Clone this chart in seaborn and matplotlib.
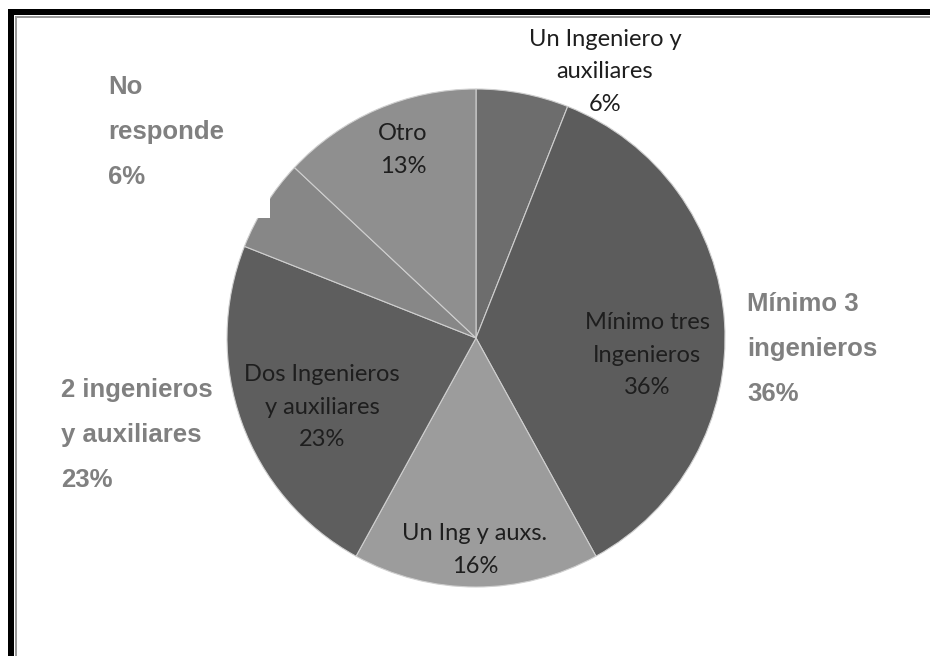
import matplotlib
matplotlib.use("Agg")
import matplotlib.pyplot as plt
from matplotlib.patches import Rectangle
import seaborn as sns

# Survey answers: team composition, clockwise from the top
slice_names = ["Un Ingeniero y\nauxiliares", "Mínimo tres\nIngenieros", "Un Ing y auxs.",
               "Dos Ingenieros\ny auxiliares", "No responde", "Otro"]
slice_values = [6, 36, 16, 23, 6, 13]
slice_colors = ["#6d6d6d", "#5c5c5c", "#9c9c9c", "#5e5e5e", "#878787", "#8f8f8f"]

# Bold side captions
side_names = ["No\nresponde", "Mínimo 3\ningenieros", "2 ingenieros\ny auxiliares"]
side_values = [6, 36, 23]

sns.set_style("white")
plt.rcParams["font.family"] = ["Lato", "DejaVu Sans"]

W, H = 930, 656
fig = plt.figure(figsize=(W / 100, H / 100), dpi=100)
ax = fig.add_axes([0, 0, 1, 1])

cx, cy, r = 476, H - 338, 249
ax.pie(slice_values, colors=slice_colors, startangle=90, counterclock=False,
       center=(cx, cy), radius=r, frame=True,
       wedgeprops=dict(edgecolor="#cfcfcf", linewidth=0.8))
ax.set_xlim(0, W)
ax.set_ylim(0, H)
ax.set_aspect("equal")
ax.axis("off")

# Blank box left over from a hidden caption, clipping the pie edge
ax.add_patch(Rectangle((228, H - 218), 42, 60, facecolor="white", edgecolor="none", zorder=3))

# In-slice labels (name + share), positions in pixel space
label_pos = [(605, 72), (647, 355), (475, 550), (322, 407), None, (403, 150)]
for name, val, pos in zip(slice_names, slice_values, label_pos):
    if pos is None:
        continue
    ax.text(pos[0], H - pos[1], f"{name}\n{val}%", ha="center", va="center",
            fontsize=17, color="#1e1e1e", linespacing=1.65, zorder=4)

# Side captions
side_pos = [(108, 132), (747, 349), (61, 435)]
for name, val, pos in zip(side_names, side_values, side_pos):
    ax.text(pos[0], H - pos[1], f"{name}\n{val}%", ha="left", va="center",
            fontsize=18.5, fontweight="bold", color="#808080", linespacing=2.12,
            family=["Liberation Sans", "Arimo", "DejaVu Sans"], zorder=4)

# Page frame (top and left edges)
ax.add_patch(Rectangle((8, 0), 6, H - 9, facecolor="black", edgecolor="none", zorder=5))
ax.add_patch(Rectangle((8, H - 15), W, 6, facecolor="black", edgecolor="none", zorder=5))
ax.add_patch(Rectangle((15, 0), 1.5, H - 16, facecolor="#9a9a9a", edgecolor="none", zorder=5))
ax.add_patch(Rectangle((15, H - 17.5), W, 1.5, facecolor="#9a9a9a", edgecolor="none", zorder=5))

fig.savefig("out.png", dpi=100)
